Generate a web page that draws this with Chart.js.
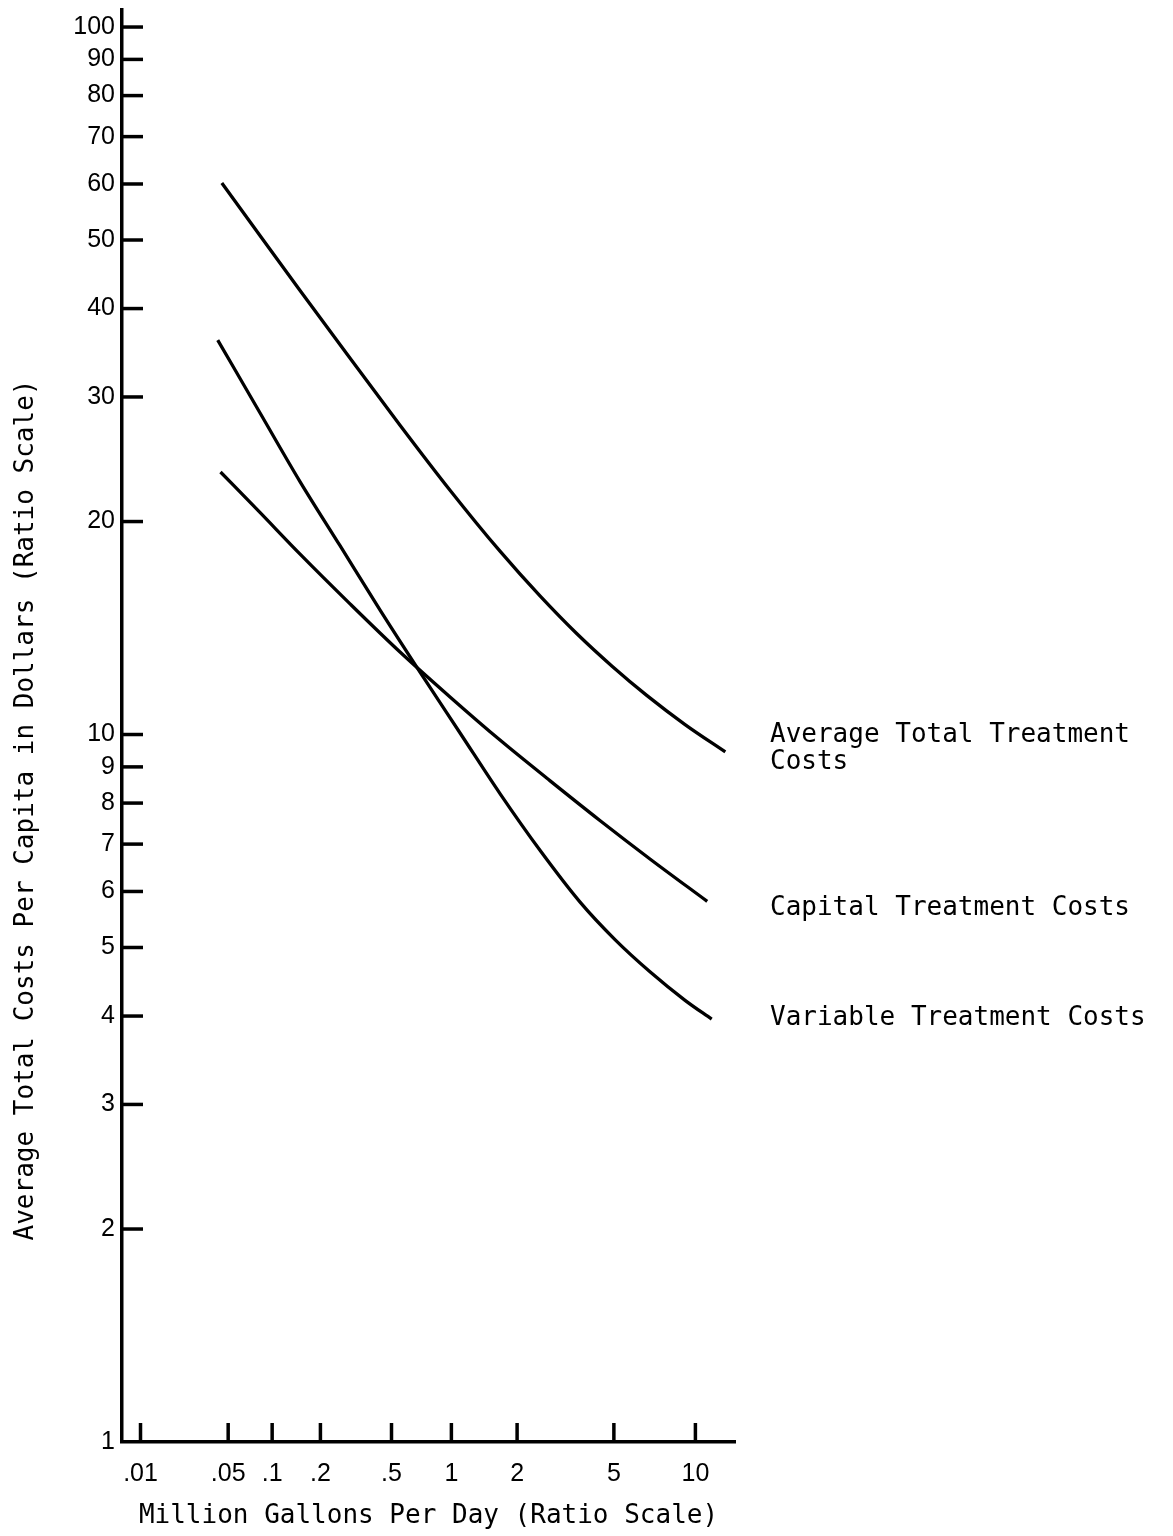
<!DOCTYPE html>
<html>
<head>
<meta charset="utf-8">
<title>Treatment costs per capita</title>
<style>
    html, body { margin: 0; padding: 0; background: #fff; }
    .chart-container { position: relative; width: 1173px; height: 1536px; background: #fff; }
</style>
</head>
<body>
<div class="chart-container">
    <canvas id="myChart"></canvas>
</div>

<script src="https://cdn.jsdelivr.net/npm/chart.js@4.4.1/dist/chart.umd.min.js"></script>

<script>

    // million gallons per day (x) and dollars per capita (y)
    const avgFlow = [0.045, 0.083, 0.150, 0.286, 0.554, 0.985, 1.68, 2.51, 3.57, 4.92, 6.68, 9.19, 12.7];
    const avgCost = [60.2, 50.75, 42.46, 34.48, 27.37, 22.15, 18.16, 15.7, 13.88, 12.49, 11.35, 10.33, 9.45];

    const capFlow = [0.044, 0.083, 0.150, 0.297, 0.554, 0.985, 1.68, 2.77, 4.41, 6.85, 11.0];
    const capCost = [23.5, 20.6, 18.0, 15.3, 13.08, 11.3, 9.82, 8.6, 7.56, 6.67, 5.81];

    const varFlow = [0.042, 0.083, 0.150, 0.260, 0.434, 0.701, 1.10, 1.68, 2.51, 3.67, 5.05, 6.85, 9.19, 11.4];
    const varCost = [36.1, 28.5, 22.8, 18.5, 15.0, 12.25, 10.05, 8.25, 6.86, 5.8, 5.13, 4.62, 4.21, 3.96];

    const xTickValues = [0.01, 0.05, 0.1, 0.2, 0.5, 1, 2, 5, 10];
    const xTickLabels = ['.01', '.05', '.1', '.2', '.5', '1', '2', '5', '10'];
    const yTickValues = [1, 2, 3, 4, 5, 6, 7, 8, 9, 10, 20, 30, 40, 50, 60, 70, 80, 90, 100];
    const yTickLabels = ['1', '2', '3', '4', '5', '6', '7', '8', '9', '10', '20', '30', '40', '50', '60', '70', '80', '90', '100'];

    const seriesNames = [
        ['Average Total Treatment', 'Costs'],
        ['Capital Treatment Costs'],
        ['Variable Treatment Costs']
    ];

    const monoFont = '"DejaVu Sans Mono", "Liberation Mono", monospace';
    const tickFont = '"Liberation Sans", Arial, sans-serif';

    // the drawn "ratio scale" on x stretches toward the right; a small power fits its ticks
    const X_POWER = 0.134;
    function toAxis(v) {
        return Math.pow(v, X_POWER);
    }

    function points(xs, ys) {
        return xs.map((x, i) => ({ x: toAxis(x), y: ys[i] }));
    }

    const tickMarks = {
        id: 'tickMarks',
        afterDraw(chart) {
            const ctx = chart.ctx;
            const area = chart.chartArea;
            const xs = chart.scales.x;
            const ys = chart.scales.y;
            ctx.save();
            ctx.strokeStyle = '#000';
            ctx.lineWidth = 3.5;
            xs.ticks.forEach(t => {
                const px = xs.getPixelForValue(t.value);
                ctx.beginPath();
                ctx.moveTo(px, area.bottom);
                ctx.lineTo(px, area.bottom - 19);
                ctx.stroke();
            });
            ys.ticks.forEach(t => {
                if (t.value === 1) return;
                const py = ys.getPixelForValue(t.value);
                ctx.beginPath();
                ctx.moveTo(area.left, py);
                ctx.lineTo(area.left + 21, py);
                ctx.stroke();
            });
            ctx.restore();
        }
    };

    const sideText = {
        id: 'sideText',
        afterDraw(chart) {
            const ctx = chart.ctx;
            const offsets = [-17, 7, -1];
            ctx.save();
            ctx.fillStyle = '#000';
            ctx.font = '26px ' + monoFont;
            ctx.textBaseline = 'middle';
            ctx.textAlign = 'left';
            chart.data.datasets.forEach((ds, i) => {
                const meta = chart.getDatasetMeta(i);
                const last = meta.data[meta.data.length - 1];
                seriesNames[i].forEach((line, j) => {
                    ctx.fillText(line, 770, last.y + offsets[i] + j * 27);
                });
            });

            // y axis title
            ctx.translate(26, 810);
            ctx.rotate(-Math.PI / 2);
            ctx.textAlign = 'center';
            ctx.fillText('Average Total Costs Per Capita in Dollars (Ratio Scale)', 0, 0);
            ctx.restore();
        }
    };

    const ctx = document.getElementById('myChart').getContext('2d');
    const myChart = new Chart(ctx, {
        type: 'line',
        data: {
            datasets: [{
                label: 'Average Total Treatment Costs',
                data: points(avgFlow, avgCost)
            }, {
                label: 'Capital Treatment Costs',
                data: points(capFlow, capCost)
            }, {
                label: 'Variable Treatment Costs',
                data: points(varFlow, varCost)
            }]
        },
        options: {
            responsive: true,
            maintainAspectRatio: false,
            animation: false,
            layout: {
                padding: { top: 10, right: 438, bottom: 0, left: 0 }
            },
            plugins: {
                legend: { display: false },
                tooltip: { enabled: false }
            },
            elements: {
                point: { radius: 0 },
                line: {
                    borderColor: '#000',
                    borderWidth: 3.3,
                    cubicInterpolationMode: 'monotone'
                }
            },
            scales: {
                x: {
                    type: 'linear',
                    min: 0.5121,
                    max: 1.4201,
                    grid: { display: false, drawTicks: false },
                    border: { display: true, color: '#000', width: 3.5 },
                    afterBuildTicks: s => { s.ticks = xTickValues.map(v => ({ value: toAxis(v) })); },
                    afterFit: s => {
                        s.height = 94;
                        s.paddingLeft = 0;
                        s.paddingRight = 0;
                    },
                    ticks: {
                        autoSkip: false,
                        maxRotation: 0,
                        padding: 17,
                        color: '#000',
                        font: { family: tickFont, size: 25 },
                        callback: (v, i) => xTickLabels[i]
                    },
                    title: {
                        display: true,
                        text: 'Million Gallons Per Day (Ratio Scale)',
                        color: '#000',
                        font: { family: monoFont, size: 26 },
                        padding: { top: 0, bottom: 4 }
                    }
                },
                y: {
                    type: 'logarithmic',
                    min: 1,
                    max: 105.7,
                    grid: { display: false, drawTicks: false },
                    border: { display: true, color: '#000', width: 3.5 },
                    afterBuildTicks: s => { s.ticks = yTickValues.map(v => ({ value: v })); },
                    afterFit: s => {
                        s.width = 122;
                        s.paddingTop = 0;
                        s.paddingBottom = 0;
                    },
                    ticks: {
                        autoSkip: false,
                        padding: 7,
                        color: '#000',
                        font: { family: tickFont, size: 25 },
                        callback: (v, i) => yTickLabels[i]
                    }
                }
            }
        },
        plugins: [tickMarks, sideText]
    });
</script>
</body>
</html>
